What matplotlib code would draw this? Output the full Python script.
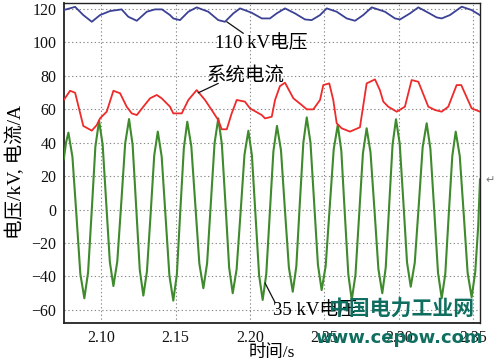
import matplotlib
matplotlib.use("Agg")
import matplotlib.pyplot as plt

# ---------------- data ----------------
# 110 kV voltage
t110 = [2.0750, 2.0826, 2.0881, 2.0938, 2.0993, 2.1060, 2.1138, 2.1183, 2.1240, 2.1307,
        2.1362, 2.1409, 2.1463, 2.1485, 2.1530, 2.1586, 2.1642, 2.1720, 2.1787, 2.1832,
        2.1888, 2.1933, 2.2011, 2.2079, 2.2134, 2.2179, 2.2235, 2.2302, 2.2369, 2.2414,
        2.2470, 2.2515, 2.2582, 2.2649, 2.2705, 2.2760, 2.2817, 2.2872, 2.2906, 2.2973,
        2.3007, 2.3074, 2.3130, 2.3197, 2.3253, 2.3287, 2.3342, 2.3421, 2.3488, 2.3532, 2.3544]
v110 = [119.1, 121.0, 116.1, 112.1, 116.1, 118.5, 119.5, 115.1, 112.7, 118.1,
        119.5, 119.5, 116.1, 114.1, 113.1, 118.1, 120.7, 118.1, 113.1, 112.1,
        117.1, 120.1, 117.5, 114.1, 114.1, 117.1, 120.1, 117.1, 113.5, 113.1,
        116.1, 120.1, 118.1, 114.1, 112.7, 116.1, 120.7, 119.1, 118.1, 114.1,
        113.5, 117.1, 120.7, 117.5, 114.7, 114.1, 116.1, 121.1, 119.1, 116.7, 116.0]

# system current
tcur = [2.0750, 2.0792, 2.0826, 2.0881, 2.0938, 2.0971, 2.0993, 2.1038, 2.1083, 2.1128,
        2.1172, 2.1206, 2.1240, 2.1284, 2.1329, 2.1374, 2.1407, 2.1463, 2.1485, 2.1542,
        2.1586, 2.1642, 2.1698, 2.1743, 2.1787, 2.1810, 2.1844, 2.1877, 2.1911, 2.1966,
        2.2000, 2.2079, 2.2101, 2.2146, 2.2168, 2.2201, 2.2235, 2.2291, 2.2347, 2.2381,
        2.2425, 2.2470, 2.2492, 2.2532, 2.2559, 2.2582, 2.2615, 2.2671, 2.2738, 2.2783,
        2.2839, 2.2872, 2.2895, 2.2928, 2.2985, 2.3040, 2.3085, 2.3130, 2.3197, 2.3242,
        2.3287, 2.3331, 2.3387, 2.3418, 2.3488, 2.3544]
vcur = [65.4, 70.9, 69.7, 49.9, 47.1, 50.4, 54.4, 58.4, 70.9, 69.4,
        61.4, 57.4, 56.4, 61.4, 66.4, 68.4, 66.4, 61.4, 57.4, 57.4,
        65.4, 71.3, 65.4, 59.4, 53.4, 47.9, 47.9, 57.4, 65.4, 64.4,
        60.4, 56.4, 54.4, 55.4, 65.4, 73.7, 75.7, 66.4, 62.4, 59.8,
        59.8, 65.4, 74.3, 75.3, 65.4, 51.5, 48.5, 46.5, 49.1, 75.3,
        77.7, 71.3, 64.4, 61.4, 58.4, 61.4, 77.3, 76.3, 61.4, 59.4,
        58.4, 61.4, 74.3, 74.3, 60.4, 58.4]

# 35 kV voltage
t35 = [2.0750, 2.0765, 2.0781,
       2.0808, 2.0835, 2.0861, 2.0888,
       2.0913, 2.0938, 2.0962, 2.0987,
       2.1011, 2.1035, 2.1059, 2.1083,
       2.1109, 2.1136, 2.1162, 2.1188,
       2.1212, 2.1236, 2.1260, 2.1284,
       2.1308, 2.1333, 2.1357, 2.1381,
       2.1407, 2.1433, 2.1459, 2.1485,
       2.1509, 2.1532, 2.1556, 2.1579,
       2.1606, 2.1633, 2.1660, 2.1687,
       2.1712, 2.1737, 2.1762, 2.1787,
       2.1811, 2.1836, 2.1860, 2.1884,
       2.1910, 2.1937, 2.1963, 2.1989,
       2.2013, 2.2037, 2.2061, 2.2085,
       2.2109, 2.2133, 2.2157, 2.2181,
       2.2208, 2.2234, 2.2261, 2.2287,
       2.2311, 2.2334, 2.2358, 2.2381,
       2.2406, 2.2431, 2.2456, 2.2481,
       2.2508, 2.2535, 2.2562, 2.2589,
       2.2613, 2.2636, 2.2660, 2.2683,
       2.2708, 2.2733, 2.2758, 2.2783,
       2.2809, 2.2836, 2.2862, 2.2888,
       2.2911, 2.2934, 2.2957, 2.2980,
       2.3005, 2.3030, 2.3054, 2.3079,
       2.3106, 2.3133, 2.3159, 2.3186,
       2.3211, 2.3237, 2.3262, 2.3287,
       2.3311, 2.3334, 2.3358, 2.3381,
       2.3408, 2.3435, 2.3461, 2.3488,
       2.3512, 2.3532, 2.3544]
v35 = [30.0, 40.0, 45.9,
       31.4, -3.6, -38.5, -53.0,
       -37.5, 0.0, 37.5, 53.0,
       38.5, 3.7, -31.2, -45.7,
       -31.1, 4.2, 39.4, 54.0,
       38.6, 1.3, -36.0, -51.4,
       -37.1, -2.5, 32.2, 46.5,
       31.7, -4.0, -39.6, -54.4,
       -38.8, -1.0, 36.8, 52.4,
       37.8, 2.7, -32.4, -47.0,
       -32.1, 3.7, 39.5, 54.4,
       39.1, 2.2, -34.7, -50.0,
       -35.8, -1.5, 32.8, 47.0,
       32.2, -3.5, -39.2, -54.0,
       -38.8, -2.1, 34.7, 49.9,
       35.4, 0.4, -34.6, -49.1,
       -33.9, 3.0, 39.8, 55.0,
       39.9, 3.5, -33.0, -48.1,
       -33.7, 1.2, 36.0, 50.4,
       35.1, -1.8, -38.7, -54.0,
       -39.0, -2.8, 33.5, 48.5,
       34.1, -0.8, -35.6, -50.0,
       -34.8, 2.0, 38.7, 53.9,
       39.3, 3.9, -31.5, -46.1,
       -31.8, 2.7, 37.2, 51.5,
       36.2, -0.8, -37.7, -53.0,
       -38.4, -3.3, 31.9, 46.5,
       32.0, -3.0, -37.9, -52.4,
       -37.4, -9.8, 18.0]

xticks = [2.10, 2.15, 2.20, 2.25, 2.30, 2.35]
xticklabels = ["2.10", "2.15", "2.20", "2.25", "2.30", "2.35"]
yticks = [-60, -40, -20, 0, 20, 40, 60, 80, 100, 120]

label_110 = "110 kV电压"
label_cur = "系统电流"
label_35 = "35 kV电压"
xlabel = "时间/s"
ylabel = "电压/kV, 电流/A"

# ---------------- figure ----------------
fam = ["Liberation Serif", "Noto Sans CJK SC", "DejaVu Sans"]
plt.rcParams["font.family"] = fam
plt.rcParams["axes.unicode_minus"] = True

fig = plt.figure(figsize=(5.0, 3.63), dpi=100)
ax = fig.add_axes([0.127, 0.111, 0.833, 0.8816])

ax.plot(t35, v35, color="#3e8a2c", lw=1.5, zorder=3)
ax.plot(tcur, vcur, color="#ee2a2a", lw=1.3, zorder=4)
ax.plot(t110, v110, color="#3b4195", lw=1.3, zorder=4)

ax.set_xlim(2.0748, 2.3544)
ax.set_ylim(-67.6, 123.5)
ax.set_xticks(xticks)
ax.set_xticklabels(xticklabels)
ax.set_yticks(yticks)
ax.tick_params(axis="both", length=0, labelsize=11.5, pad=5, colors="#111111")
ax.grid(True, color="#8a8a8a", lw=0.8, linestyle=(0, (1.2, 2.2)))
for s in ax.spines.values():
    s.set_color("#222222")
    s.set_linewidth(1.0)
ax.spines["left"].set_linewidth(1.3)
ax.spines["bottom"].set_linewidth(1.3)

ax.set_xlabel(xlabel, fontsize=12.5, va="center")
ax.xaxis.set_label_coords(0.5, -0.094)
ax.set_ylabel(ylabel, fontsize=14, va="center")
ax.yaxis.set_label_coords(-0.115, 0.47)

# annotations with leader lines
lead = dict(arrowstyle="-", color="#111111", lw=0.9, shrinkA=0, shrinkB=0)
ax.annotate("", xy=(2.1844, 112.1), xytext=(2.1955, 105.2), arrowprops=lead, zorder=6)
ax.text(2.1765, 99.4, label_110, fontsize=13.5, ha="left", va="center", zorder=6)
ax.annotate("", xy=(2.1653, 69.7), xytext=(2.1787, 75.3), arrowprops=lead, zorder=6)
ax.text(2.1709, 79.6, label_cur, fontsize=14, ha="left", va="center", zorder=6)
ax.annotate("", xy=(2.2101, -43.9), xytext=(2.2168, -55.5), arrowprops=lead, zorder=6)
ax.text(2.2154, -60.0, label_35, fontsize=13.5, ha="left", va="center", zorder=6)

# stray mark and watermark
fig.text(0.981, 0.505, "↵", fontsize=8, color="#777777", family="DejaVu Sans",
         ha="center", va="center")
fig.text(0.802, 0.149, "中国电力工业网", fontsize=15, color="#0f6e5f", fontweight="bold",
         family=["Noto Sans CJK SC", "DejaVu Sans"], ha="center", va="center", zorder=10)
fig.text(0.798, 0.069, "www.cepow.com", fontsize=13, color="#0f6e5f", fontweight="bold",
         family="DejaVu Sans", ha="center", va="center", zorder=10)

fig.savefig("out.png", dpi=100)
